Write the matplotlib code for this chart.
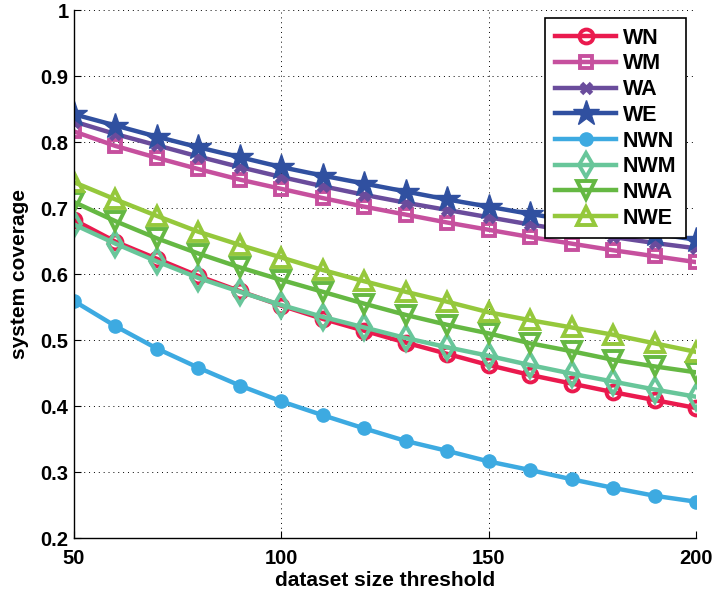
import matplotlib
matplotlib.use("Agg")
import matplotlib.pyplot as plt

x = [50, 60, 70, 80, 90, 100, 110, 120, 130, 140, 150, 160, 170, 180, 190, 200]

WN = [0.682, 0.649, 0.623, 0.597, 0.574, 0.552, 0.532, 0.514, 0.496, 0.479, 0.462, 0.447, 0.434, 0.421, 0.409, 0.397]
WM = [0.816, 0.794, 0.776, 0.759, 0.743, 0.729, 0.715, 0.702, 0.690, 0.678, 0.667, 0.656, 0.646, 0.636, 0.627, 0.618]
WA = [0.831, 0.812, 0.795, 0.778, 0.762, 0.747, 0.733, 0.720, 0.708, 0.697, 0.686, 0.675, 0.665, 0.656, 0.647, 0.639]
WE = [0.842, 0.825, 0.808, 0.792, 0.777, 0.762, 0.749, 0.737, 0.725, 0.713, 0.702, 0.691, 0.681, 0.671, 0.661, 0.652]
NWN = [0.559, 0.521, 0.487, 0.458, 0.431, 0.407, 0.386, 0.366, 0.347, 0.332, 0.316, 0.303, 0.289, 0.276, 0.264, 0.255]
NWM = [0.675, 0.646, 0.619, 0.594, 0.573, 0.553, 0.535, 0.519, 0.503, 0.489, 0.476, 0.462, 0.449, 0.437, 0.425, 0.414]
NWA = [0.709, 0.680, 0.654, 0.631, 0.610, 0.591, 0.573, 0.555, 0.538, 0.523, 0.510, 0.495, 0.483, 0.470, 0.460, 0.451]
NWE = [0.739, 0.713, 0.688, 0.664, 0.644, 0.625, 0.606, 0.589, 0.573, 0.558, 0.542, 0.530, 0.519, 0.508, 0.495, 0.482]

series_names = ["WN", "WM", "WA", "WE", "NWN", "NWM", "NWA", "NWE"]
series_values = [WN, WM, WA, WE, NWN, NWM, NWA, NWE]

x_ticks = [50, 100, 150, 200]
y_ticks = [0.2, 0.3, 0.4, 0.5, 0.6, 0.7, 0.8, 0.9, 1.0]
y_tick_labels = ["0.2", "0.3", "0.4", "0.5", "0.6", "0.7", "0.8", "0.9", "1"]

colors = ["#EA1A4E", "#C6509E", "#6A4C9C", "#3050A0", "#3DAAE1", "#68C69A", "#65B843", "#95C83C"]
styles = [
    dict(marker="o", ms=10, mfc="none", mew=2.8),
    dict(marker="s", ms=9, mfc="none", mew=2.8),
    dict(marker="x", ms=7, mew=3.5),
    dict(marker="*", ms=19, mew=1),
    dict(marker="o", ms=9.5, mew=1),
    dict(marker="d", ms=12.5, mfc="none", mew=2.8),
    dict(marker="v", ms=13, mfc="none", mew=2.8),
    dict(marker="^", ms=13, mfc="none", mew=2.8),
]

plt.rcParams["font.family"] = ["Liberation Sans", "DejaVu Sans"]
plt.rcParams["font.weight"] = "bold"

fig = plt.figure(figsize=(7.15, 5.95), dpi=100)
ax = fig.add_axes([74 / 715, 57 / 595, 622 / 715, 528 / 595])

for name, vals, c, st in zip(series_names, series_values, colors, styles):
    ax.plot(x, vals, color=c, lw=3.2, label=name, **st)

ax.set_xlim(50, 200)
ax.set_ylim(0.2, 1.0)
ax.set_xticks(x_ticks)
ax.set_yticks(y_ticks)
ax.set_yticklabels(y_tick_labels)
ax.tick_params(direction="in", length=5, width=0.8, labelsize=14.5)
ax.tick_params(axis="x", pad=8)
ax.tick_params(axis="y", pad=4)
for lab in ax.get_xticklabels() + ax.get_yticklabels():
    lab.set_fontweight("bold")

ax.grid(True, linestyle=(0, (1, 4)), color="black", lw=0.7)
ax.spines["top"].set_visible(False)
ax.spines["right"].set_visible(False)
ax.spines["left"].set_linewidth(1.0)
ax.spines["bottom"].set_linewidth(1.0)

ax.set_xlabel("dataset size threshold", fontsize=15, fontweight="bold", labelpad=2)
ax.set_ylabel("system coverage", fontsize=15, fontweight="bold", labelpad=8)

leg = ax.legend(loc="upper right", bbox_to_anchor=(0.984, 0.985), borderaxespad=0,
                fontsize=15.5, frameon=True, fancybox=False, handlelength=2.85,
                handletextpad=0.3, labelspacing=0.22, borderpad=0.45)
leg.get_frame().set_edgecolor("black")
leg.get_frame().set_linewidth(1.2)
leg.get_frame().set_alpha(1)
for t in leg.get_texts():
    t.set_fontweight("bold")

fig.savefig("out.png", dpi=100)
